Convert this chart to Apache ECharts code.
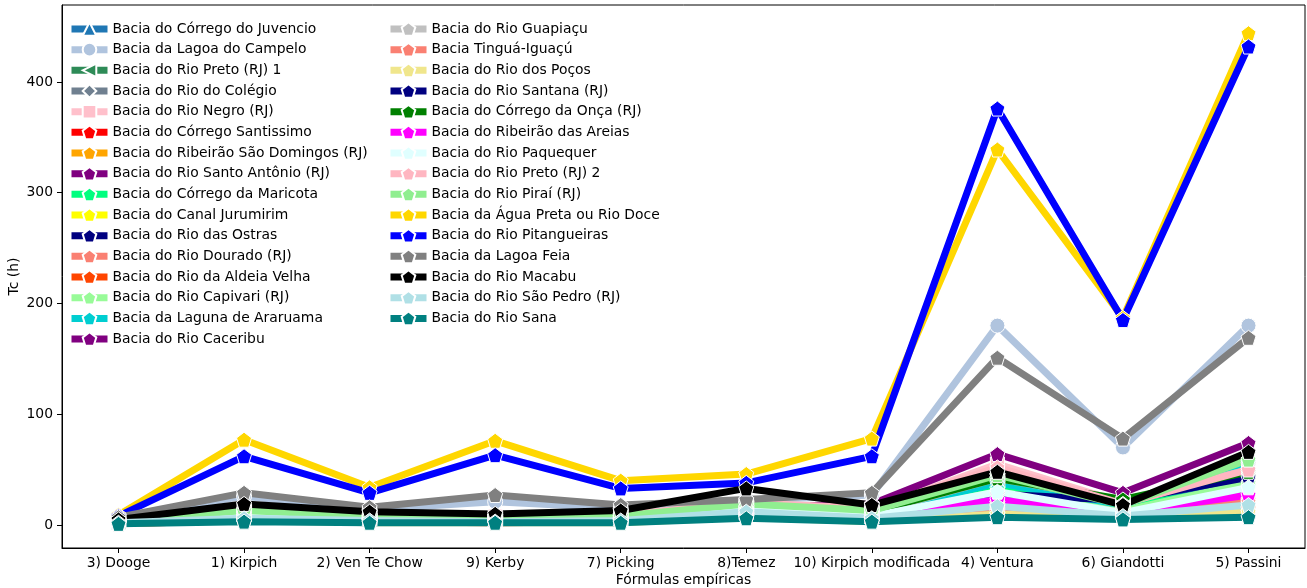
<!DOCTYPE html>
<html>
<head>
<meta charset="utf-8">
<script src="https://cdn.jsdelivr.net/npm/echarts@6/dist/echarts.min.js"></script>
<style>
  html, body { margin: 0; padding: 0; background: #fff; }
  #chart { width: 1307px; height: 588px; }
</style>
</head>
<body>
<div id="chart"></div>
<script>
// Empirical formulas (x axis categories)
const formulas = ['3) Dooge', '1) Kirpich', '2) Ven Te Chow', '9) Kerby', '7) Picking',
  '8)Temez', '10) Kirpich modificada', '4) Ventura', '6) Giandotti', '5) Passini'];

// Basin names, in plotting order
const basins = [
  'Bacia do Córrego do Juvencio', 'Bacia da Lagoa do Campelo', 'Bacia do Rio Preto (RJ) 1',
  'Bacia do Rio do Colégio', 'Bacia do Rio Negro (RJ)', 'Bacia do Córrego Santissimo',
  'Bacia do Ribeirão São Domingos (RJ)', 'Bacia do Rio Santo Antônio (RJ)', 'Bacia do Córrego da Maricota',
  'Bacia do Canal Jurumirim', 'Bacia do Rio das Ostras', 'Bacia do Rio Dourado (RJ)',
  'Bacia do Rio da Aldeia Velha', 'Bacia do Rio Capivari (RJ)', 'Bacia da Laguna de Araruama',
  'Bacia do Rio Caceribu', 'Bacia do Rio Guapiaçu', 'Bacia Tinguá-Iguaçú',
  'Bacia do Rio dos Poços', 'Bacia do Rio Santana (RJ)', 'Bacia do Córrego da Onça (RJ)',
  'Bacia do Ribeirão das Areias', 'Bacia do Rio Paquequer', 'Bacia do Rio Preto (RJ) 2',
  'Bacia do Rio Piraí (RJ)', 'Bacia da Água Preta ou Rio Doce', 'Bacia do Rio Pitangueiras',
  'Bacia da Lagoa Feia', 'Bacia do Rio Macabu', 'Bacia do Rio São Pedro (RJ)', 'Bacia do Rio Sana'
];

// Concentration time Tc (h) per basin, one value per formula
const tcValues = [
  [3, 10, 6, 5, 6, 12, 8, 28, 14, 41],
  [6, 26, 14, 21, 15, 22, 27, 180, 70, 180],
  [3, 12, 7, 6, 7, 15, 11, 40, 20, 48],
  [2, 8, 5, 4, 5, 11, 7, 22, 10, 30],
  [4, 14, 8, 8, 8, 18, 14, 55, 20, 52],
  [1, 4, 3, 2, 3, 7, 4, 10, 6, 12],
  [2, 7, 4, 4, 4, 9, 6, 18, 9, 22],
  [3, 11, 7, 6, 7, 14, 12, 45, 20, 55],
  [3, 10, 6, 5, 6, 13, 9, 33, 16, 35],
  [2, 6, 4, 3, 4, 9, 5, 14, 15, 15],
  [2, 6, 4, 3, 4, 9, 5, 13, 8, 20],
  [2, 7, 4, 4, 4, 10, 6, 20, 10, 23],
  [1, 5, 3, 3, 3, 7, 4, 12, 6, 15],
  [3, 9, 5, 5, 5, 12, 8, 30, 13, 38],
  [3, 11, 6, 6, 6, 13, 10, 38, 18, 57],
  [4, 13, 8, 8, 9, 16, 19, 64, 29, 74],
  [3, 11, 7, 6, 7, 15, 11, 42, 22, 50],
  [2, 6, 4, 3, 4, 9, 5, 16, 9, 21],
  [1, 4, 2, 2, 2, 7, 3, 10, 6, 12],
  [3, 9, 5, 5, 5, 12, 8, 28, 22, 43],
  [4, 12, 7, 7, 7, 16, 12, 42, 23, 48],
  [2, 7, 4, 4, 4, 10, 6, 23, 11, 27],
  [3, 8, 5, 5, 5, 14, 8, 30, 11, 34],
  [4, 14, 9, 8, 9, 20, 15, 52, 19, 50],
  [4, 13, 8, 8, 8, 19, 13, 45, 18, 59],
  [9, 77, 34, 76, 40, 46, 78, 339, 187, 444],
  [8, 62, 29, 63, 33, 38, 62, 376, 185, 432],
  [7, 29, 16, 27, 18, 23, 29, 151, 78, 169],
  [5, 19, 12, 10, 13, 33, 18, 48, 18, 66],
  [2, 6, 4, 3, 4, 12, 6, 17, 8, 18],
  [1, 3, 2, 2, 2, 6, 3, 7, 5, 7]
];

const yTicks = [0, 100, 200, 300, 400];

// Line colours, one per basin
const colors = [
  '#1f77b4', '#b0c4de', '#2e8b57', '#708090', '#ffc0cb', '#ff0000', '#ffa500', '#800080',
  '#00ff7f', '#ffff00', '#000080', '#fa8072', '#ff4500', '#98fb98', '#00ced1', '#800080',
  '#c0c0c0', '#fa8072', '#f0e68c', '#000080', '#008000', '#ff00ff', '#e0ffff', '#ffb6c1',
  '#90ee90', '#ffd700', '#0000ff', '#808080', '#000000', '#b0e0e6', '#008080'
];

const PENTAGON = 'path://M50,0L97.55,34.55L79.39,90.45L20.61,90.45L2.45,34.55Z';
const markerFor = [
  { symbol: 'triangle', size: 15 },
  { symbol: 'circle', size: 15 },
  { symbol: 'path://M0,50L100,0L100,100Z', size: 15 },
  { symbol: 'path://M30,0L60,50L30,100L0,50Z', size: [11, 17] },
  { symbol: 'rect', size: 14 }
];

const FONT = 'DejaVu Sans';

const series = basins.map((name, i) => {
  const m = markerFor[i] || { symbol: PENTAGON, size: 15 };
  return {
    name: name,
    type: 'line',
    data: tcValues[i].map((v, j) => [j, v]),
    symbol: m.symbol,
    symbolSize: m.size,
    showSymbol: true,
    showAllSymbol: true,
    clip: false,
    color: colors[i],
    lineStyle: { color: colors[i], width: 7, join: 'round', cap: 'butt' },
    itemStyle: { color: colors[i], borderColor: '#ffffff', borderWidth: 1 },
    emphasis: { disabled: true },
    animation: false
  };
});

const legendBase = {
  orient: 'vertical',
  itemWidth: 36,
  itemHeight: 17,
  itemGap: 3.67,
  selectedMode: false,
  padding: 0,
  textStyle: { fontFamily: FONT, fontSize: 13.9, color: '#000', lineHeight: 17 },
  lineStyle: { width: 7 }
};

const chart = echarts.init(document.getElementById('chart'), null, { renderer: 'canvas' });
chart.setOption({
  animation: false,
  backgroundColor: '#ffffff',
  grid: {
    left: 62, right: 2, top: 5, bottom: 40,
    outerBoundsMode: 'none',
    containLabel: false,
    show: true, borderColor: '#000', borderWidth: 1, backgroundColor: 'transparent'
  },
  legend: [
    Object.assign({}, legendBase, { left: 68, top: 20.5, data: basins.slice(0, 16) }),
    Object.assign({}, legendBase, { left: 387, top: 20.5, data: basins.slice(16) })
  ],
  xAxis: {
    type: 'value',
    min: -0.45,
    max: 9.45,
    name: 'Fórmulas empíricas',
    nameLocation: 'middle',
    nameGap: 25,
    nameMoveOverlap: false,
    nameTextStyle: { fontFamily: FONT, fontSize: 13.9, color: '#000' },
    axisLine: { show: true, onZero: false, lineStyle: { color: '#000', width: 1 } },
    axisTick: { show: true, length: 5, lineStyle: { color: '#000' },
      customValues: formulas.map((_, j) => j) },
    axisLabel: { fontFamily: FONT, fontSize: 13.9, color: '#000', margin: 8,
      customValues: formulas.map((_, j) => j),
      formatter: v => formulas[Math.round(v)] },
    splitLine: { show: false }
  },
  yAxis: {
    type: 'value',
    min: -20.8,
    max: 469.5,
    name: 'Tc (h)',
    nameLocation: 'middle',
    nameRotate: 90,
    nameGap: 41,
    nameMoveOverlap: false,
    nameTextStyle: { fontFamily: FONT, fontSize: 13.9, color: '#000' },
    axisLine: { show: true, onZero: false, lineStyle: { color: '#000', width: 1 } },
    axisTick: { show: true, length: 5, lineStyle: { color: '#000' }, customValues: yTicks },
    axisLabel: { fontFamily: FONT, fontSize: 13.9, color: '#000', margin: 9, customValues: yTicks },
    splitLine: { show: false }
  },
  series: series
});
</script>
</body>
</html>
